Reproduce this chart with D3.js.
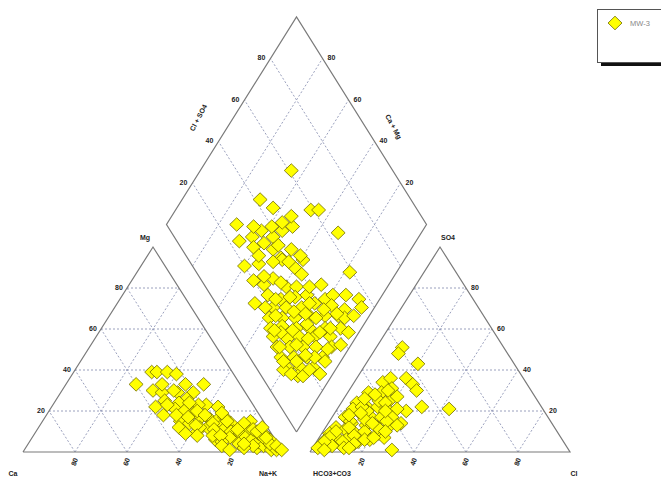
<!DOCTYPE html>
<html><head><meta charset="utf-8">
<script src="https://cdn.jsdelivr.net/npm/d3@7"></script>
<style>body{margin:0;background:#fff}svg{display:block}</style>
</head><body>
<svg id="c" width="661" height="478"></svg>
<script>
// ---- data (percent) ----
const tickValues = [20, 40, 60, 80];
const seriesName = "MW-3";
// cation triangle: Na+K %, Mg %
const cationNaK = [27,30,32,36,40,53,35,39,45,51,50,48,40,45,48,52,56,59,64,56,53,54,57,60,64,67,69,70,73,76,78,68,71,74,81,80,82,87,88,91,94,97,89,84,80,65,62,43,46,42,52,57,61,62,66,68,72,75,76,79,82,85,88,91,92,94,95,97,86,83,78,71,69,74,81,87,89,93,96,84,99,90,85,77,37,44,50,55,60,63,58,67,72,75,79,83,86];
const cationMg  = [33,39,39,39,38,33,30,29,29,29,26,24,22,18,21,20,19,23,22,23,15,12,14,17,16,16,17,13,14,10,12,11,6,8,8,15,10,7,9,4,2,2,2,4,5,12,10,30,33,25,24,20,18,12,14,11,12,10,7,9,7,6,5,3,6,3,1,1,9,11,14,15,8,5,4,3,7,4,3,2,1,7,10,11,33,23,18,17,13,8,9,19,8,3,1,4,12];
// anion triangle: Cl %, SO4 %
const anionCl  = [10,10,20,11,13,16,19,23,26,32,43,8,12,13,18,20,27,6,11,15,19,23,6,11,15,19,23,28,5,9,15,20,24,4,8,13,18,22,3,7,11,16,20,3,6,31,25,11,8,12,14,5,9,13,16,4,7,10,15,18,20,22,6,9,11,15,17,24,27,13,19,3,2,5,12,17,21,8,10,14];
const anionSO4 = [51,48,43,34,36,31,36,33,30,22,21,29,27,29,25,27,20,24,22,22,21,21,21,18,17,17,17,14,17,14,13,12,12,12,11,9,8,9,9,7,6,5,6,6,4,1,7,3,15,20,25,10,12,8,10,7,3,5,4,6,12,15,18,22,28,30,24,10,13,16,20,5,2,1,2,14,7,26,19,2];
// diamond: Ca+Mg %, Cl+SO4 %
const diamondCaMg  = [65,70,63,48,45,73,51,54,32,68,64,56,61,53,46,48,39,60,55,47,40,18,53,48,46,39,35,47,44,38,33,29,21,19,14,8,5,39,34,28,24,17,11,38,33,28,23,17,12,35,31,25,20,14,8,4,32,26,22,16,10,28,23,18,13,7,24,19,14,8,19,14,9,13,5,20,54,56,
  42,50,58,44,52,50,57,62,41,36,30,26,22,18,15,12,9,6,30,26,21,17,11,8,4,27,22,16,11,10,35,30,25,19,13,36,42,40,33,26,20,15,6,66,59];
const diamondClSO4 = [61,42,45,59,62,27,48,43,64,24,30,38,28,35,42,36,44,20,26,36,39,59,20,23,28,31,35,15,22,26,32,37,43,47,52,56,55,21,26,32,38,44,48,17,22,27,33,39,44,15,20,25,30,36,42,44,14,19,24,30,36,13,18,23,28,34,12,17,22,28,12,17,22,14,23,10,50,45,
  30,32,33,38,38,25,28,35,44,40,40,36,30,27,33,38,46,50,18,23,21,17,25,32,38,14,12,12,16,20,30,28,32,40,44,20,18,24,16,45,35,22,28,33,40];

// ---- layout ----
const svg = d3.select("#c");
const xL = d3.scaleLinear().domain([0,100]).range([23,283]);
const xR = d3.scaleLinear().domain([0,100]).range([310,570]);
const yT = d3.scaleLinear().domain([0,100]).range([452,247]);
const dX = d3.scaleLinear().domain([-100,100]).range([166.5,426.5]);
const dY = d3.scaleLinear().domain([0,200]).range([432,17]);

const gridColor = "#8f95b5", edgeColor = "#7a7a7a";
const line = d3.line();

const pL = (a,m) => [xL(a + m/2), yT(m)];
const pR = (a,m) => [xR(a + m/2), yT(m)];
const pD = (cm,cs) => [dX(cs - cm), dY(cm + cs)];

function drawGrid(P) {
  const g = svg.append("g");
  tickValues.forEach(t => {
    g.append("path").attr("d", line([P(0,t), P(100-t,t)]));
    g.append("path").attr("d", line([P(t,0), P(t,100-t)]));
    g.append("path").attr("d", line([P(100-t,0), P(0,100-t)]));
  });
  g.selectAll("path").attr("fill","none").attr("stroke",gridColor).attr("stroke-width",0.9).attr("stroke-dasharray","2,2");
  svg.append("path").attr("d", line([P(0,0),P(100,0),P(0,100),P(0,0)]) )
    .attr("fill","none").attr("stroke",edgeColor).attr("stroke-width",1.2);
}
drawGrid(pL);
drawGrid(pR);

{
  const g = svg.append("g");
  tickValues.forEach(t => {
    g.append("path").attr("d", line([pD(t,0), pD(t,100)]));
    g.append("path").attr("d", line([pD(0,t), pD(100,t)]));
  });
  g.selectAll("path").attr("fill","none").attr("stroke",gridColor).attr("stroke-width",0.9).attr("stroke-dasharray","2,2");
  svg.append("path").attr("d", line([pD(0,0),pD(100,0),pD(100,100),pD(0,100),pD(0,0)]))
    .attr("fill","none").attr("stroke",edgeColor).attr("stroke-width",1.2);
}

// ---- labels ----
const lab = (x,y,t,opts={}) => {
  const e = svg.append("text").attr("x",x).attr("y",y).text(t)
    .attr("font-family","Liberation Sans, Arial, sans-serif")
    .attr("font-size", opts.size || 7).attr("font-weight","bold")
    .attr("fill", opts.fill || "#222").attr("text-anchor", opts.anchor || "middle")
    .attr("dominant-baseline","middle");
  if (opts.rot !== undefined) e.attr("transform", `rotate(${opts.rot},${x},${y})`);
  return e;
};
tickValues.forEach(t => {
  const [x,y] = pL(0,t); lab(x-8, y, t);
  lab(xL(t), 462, 100-t, {rot:-70});
});
lab(145, 238, "Mg"); lab(13, 474, "Ca"); lab(268, 474, "Na+K");
tickValues.forEach(t => {
  const [x,y] = pR(100-t,t); lab(x+9, y, t);
  lab(xR(t), 462, t, {rot:-70});
});
lab(448, 238, "SO4"); lab(332, 474, "HCO3+CO3"); lab(574, 474, "Cl");
tickValues.forEach(t => {
  const [x1,y1] = pD(100,t); lab(x1-9, y1, t);
  const [x2,y2] = pD(t,100); lab(x2+9, y2, t);
});
lab(199, 118, "Cl + SO4", {rot:-62});
lab(393, 127, "Ca + Mg", {rot:62});

// ---- markers ----
const diamondPath = "M0,-6.8L7,0L0,6.8L-7,0Z";
const mark = (pts) => svg.append("g").selectAll("path").data(pts).join("path")
  .attr("d", diamondPath).attr("transform", d => `translate(${d[0]},${d[1]})`)
  .attr("fill","#ffff00").attr("stroke","#6e6a00").attr("stroke-width",0.8);
mark(cationNaK.map((v,i) => pL(v, cationMg[i])));
mark(anionCl.map((v,i) => pR(v, anionSO4[i])));
mark(diamondCaMg.map((v,i) => pD(v, diamondClSO4[i])));

// ---- legend ----
svg.append("rect").attr("x",601).attr("y",61).attr("width",70).attr("height",5).attr("fill","#111");
svg.append("rect").attr("x",597.5).attr("y",9.5).attr("width",70).attr("height",53)
  .attr("fill","#fff").attr("stroke","#555").attr("stroke-width",1);
svg.append("path").attr("d",diamondPath).attr("transform","translate(615,23)")
  .attr("fill","#ffff00").attr("stroke","#6e6a00").attr("stroke-width",0.8);
lab(630, 24, seriesName, {anchor:"start", fill:"#888", size:7.5}).attr("font-weight","normal");
</script>
</body></html>
